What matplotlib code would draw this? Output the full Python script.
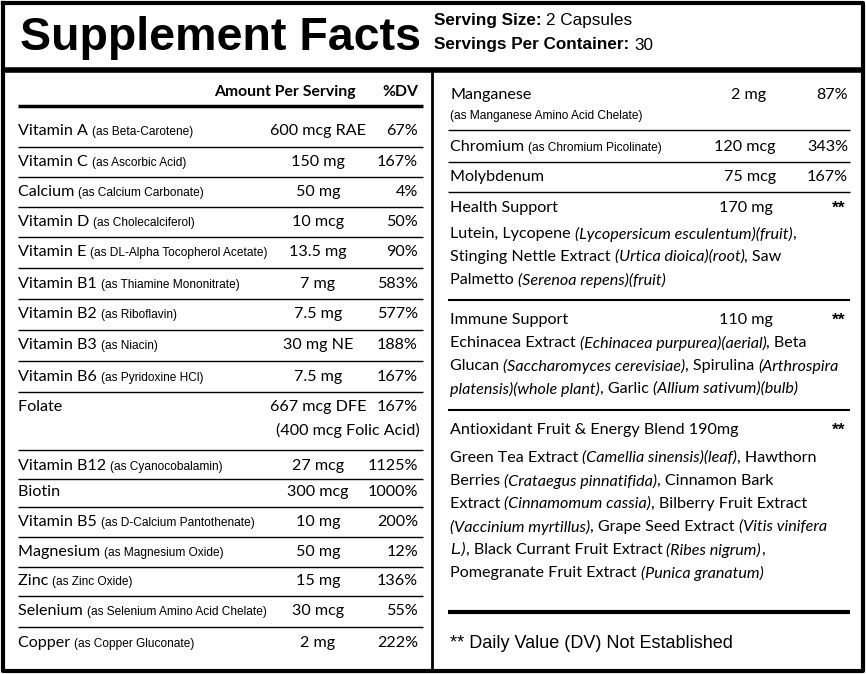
import matplotlib.pyplot as plt

serving_size = "2 Capsules"
servings = "30"

left_names = ["Vitamin A", "Vitamin C", "Calcium", "Vitamin D", "Vitamin E", "Vitamin B1",
              "Vitamin B2", "Vitamin B3", "Vitamin B6", "Folate", "Vitamin B12", "Biotin",
              "Vitamin B5", "Magnesium", "Zinc", "Selenium", "Copper"]
left_forms = ["(as Beta-Carotene)", "(as Ascorbic Acid)", "(as Calcium Carbonate)",
              "(as Cholecalciferol)", "(as DL-Alpha Tocopherol Acetate)", "(as Thiamine Mononitrate)",
              "(as Riboflavin)", "(as Niacin)", "(as Pyridoxine HCl)", "", "(as Cyanocobalamin)", "",
              "(as D-Calcium Pantothenate)", "(as Magnesium Oxide)", "(as Zinc Oxide)",
              "(as Selenium Amino Acid Chelate)", "(as Copper Gluconate)"]
left_amounts = ["600 mcg RAE", "150 mg", "50 mg", "10 mcg", "13.5 mg", "7 mg", "7.5 mg",
                "30 mg NE", "7.5 mg", "667 mcg DFE", "27 mcg", "300 mcg", "10 mg", "50 mg",
                "15 mg", "30 mcg", "2 mg"]
left_dv = ["67%", "167%", "4%", "50%", "90%", "583%", "577%", "188%", "167%", "167%",
           "1125%", "1000%", "200%", "12%", "136%", "55%", "222%"]
left_rows_y = [131, 162, 192, 222, 252, 284, 314, 345, 377, 407, 466, 492, 522, 552, 581, 611, 643]
left_seps = [147, 177, 207, 237, 268, 299, 330, 361, 392, 450, 479, 507, 537, 567, 596, 627]

right_simple = [("Chromium", "(as Chromium Picolinate)", "120 mcg", "343%"),
                ("Molybdenum", "", "75 mcg", "167%")]

blends = [
    ("Health Support", "170 mg", [
        [("Lutein, Lycopene ", "n"), ("(Lycopersicum esculentum)(fruit)", "i"), (",", "n")],
        [("Stinging Nettle Extract ", "n"), ("(Urtica dioica)(root)", "i"), (", Saw", "n")],
        [("Palmetto ", "n"), ("(Serenoa repens)(fruit)", "i")]]),
    ("Immune Support", "110 mg", [
        [("Echinacea Extract ", "n"), ("(Echinacea purpurea)(aerial)", "i"), (", Beta", "n")],
        [("Glucan ", "n"), ("(Saccharomyces cerevisiae)", "i"), (", Spirulina ", "n"), ("(Arthrospira", "i")],
        [("platensis)(whole plant)", "i"), (", Garlic ", "n"), ("(Allium sativum)(bulb)", "i")]]),
    ("Antioxidant Fruit & Energy Blend 190mg", "", [
        [("Green Tea Extract ", "n"), ("(Camellia sinensis)(leaf)", "i"), (", Hawthorn", "n")],
        [("Berries ", "n"), ("(Crataegus pinnatifida)", "i"), (", Cinnamon Bark", "n")],
        [("Extract ", "n"), ("(Cinnamomum cassia)", "i"), (", Bilberry Fruit Extract", "n")],
        [("(Vaccinium myrtillus)", "i"), (", Grape Seed Extract ", "n"), ("(Vitis vinifera", "i")],
        [("L.)", "i"), (", Black Currant Fruit Extract ", "n"), ("(Ribes nigrum)", "i"), (",", "n")],
        [("Pomegranate Fruit Extract ", "n"), ("(Punica granatum)", "i")]]),
]
blend_head_y = [208, 320, 430]
blend_line_y = [[234, 257, 280], [343, 366, 389], [458, 481, 504, 527, 550, 573]]

BODY = ["Lato", "DejaVu Sans"]
NARROW = ["Liberation Sans Narrow", "Liberation Sans", "DejaVu Sans"]
ARIAL = ["Liberation Sans", "DejaVu Sans"]
fs = 11.6
fsf = 8.6

fig = plt.figure(figsize=(8.66, 6.74), dpi=100)
ax = fig.add_axes([0, 0, 1, 1])
ax.set_xlim(0, 866)
ax.set_ylim(674, 0)
ax.axis("off")
r = fig.canvas.get_renderer()
inv = ax.transData.inverted()


def hline(y, x0, x1, lw=1.0):
    ax.plot([x0, x1], [y, y], color="black", lw=lw, solid_capstyle="butt")


def put(x, y, s, **kw):
    t = ax.text(x, y, s, va="center", **kw)
    bb = t.get_window_extent(r)
    return inv.transform((bb.x1, bb.y0))[0]


# border and main rules
ax.plot([3, 863, 863, 3, 3], [3, 3, 671, 671, 3], color="black", lw=3)
hline(70, 3, 863, 4)
ax.plot([432, 432], [70, 671], color="black", lw=2)

ax.text(20, 38, "Supplement Facts", fontsize=33.5, fontweight="heavy", family=ARIAL, va="center")
x = put(434, 21, "Serving Size: ", fontsize=12.3, fontweight="bold", family=ARIAL)
put(x, 21, serving_size, fontsize=12.3, family=ARIAL)
x = put(434, 45, "Servings Per Container: ", fontsize=12.3, fontweight="bold", family=ARIAL)
put(x, 45, servings, fontsize=12.3, family=ARIAL)

# left column
ax.text(356, 92, "Amount Per Serving", fontsize=11.3, fontweight="bold", family=BODY, va="center", ha="right")
ax.text(418, 92, "%DV", fontsize=11.3, fontweight="bold", family=BODY, va="center", ha="right")
hline(106, 18, 423, 2.5)
for name, form, amt, dv, y in zip(left_names, left_forms, left_amounts, left_dv, left_rows_y):
    x = put(18, y, name + " ", fontsize=fs, family=BODY)
    if form:
        put(x, y + 1, form, fontsize=fsf, family=NARROW)
    ax.text(318, y, amt, fontsize=fs, family=BODY, va="center", ha="center")
    ax.text(418, y, dv, fontsize=fs, family=BODY, va="center", ha="right")
ax.text(420, 430, "(400 mcg Folic Acid)", fontsize=fs, family=BODY, va="center", ha="right")
for y in left_seps:
    hline(y, 18, 423, 1.0)

# right column
put(450, 95, "Manganese", fontsize=fs, family=BODY)
put(450, 116, "(as Manganese Amino Acid Chelate)", fontsize=fsf, family=NARROW)
ax.text(766, 95, "2 mg", fontsize=fs, family=BODY, va="center", ha="right")
ax.text(848, 95, "87%", fontsize=fs, family=BODY, va="center", ha="right")
hline(130, 448, 850)
for (name, form, amt, dv), y in zip(right_simple, [147, 177]):
    x = put(450, y, name + " ", fontsize=fs, family=BODY)
    if form:
        put(x, y + 1, form, fontsize=fsf, family=NARROW)
    ax.text(776, y, amt, fontsize=fs, family=BODY, va="center", ha="right")
    ax.text(848, y, dv, fontsize=fs, family=BODY, va="center", ha="right")
hline(162, 448, 850)
hline(192, 448, 850)
for (head, amt, lines), hy, ly, sep in zip(blends, blend_head_y, blend_line_y, [300, 410, 612]):
    put(450, hy, head, fontsize=fs, family=BODY)
    if amt:
        ax.text(773, hy, amt, fontsize=fs, family=BODY, va="center", ha="right")
    ax.text(845, hy, "**", fontsize=12.5, fontweight="bold", family=ARIAL, va="center", ha="right")
    for segs, y in zip(lines, ly):
        x = 450
        for s, st in segs:
            x = put(x, y, s, fontsize=fs, family=BODY, style="italic" if st == "i" else "normal")
    hline(sep, 448, 850, 3 if sep == 612 else 1.5)
put(450, 643, "** Daily Value (DV) Not Established", fontsize=13, family=ARIAL)

fig.savefig("out.png", dpi=100)
